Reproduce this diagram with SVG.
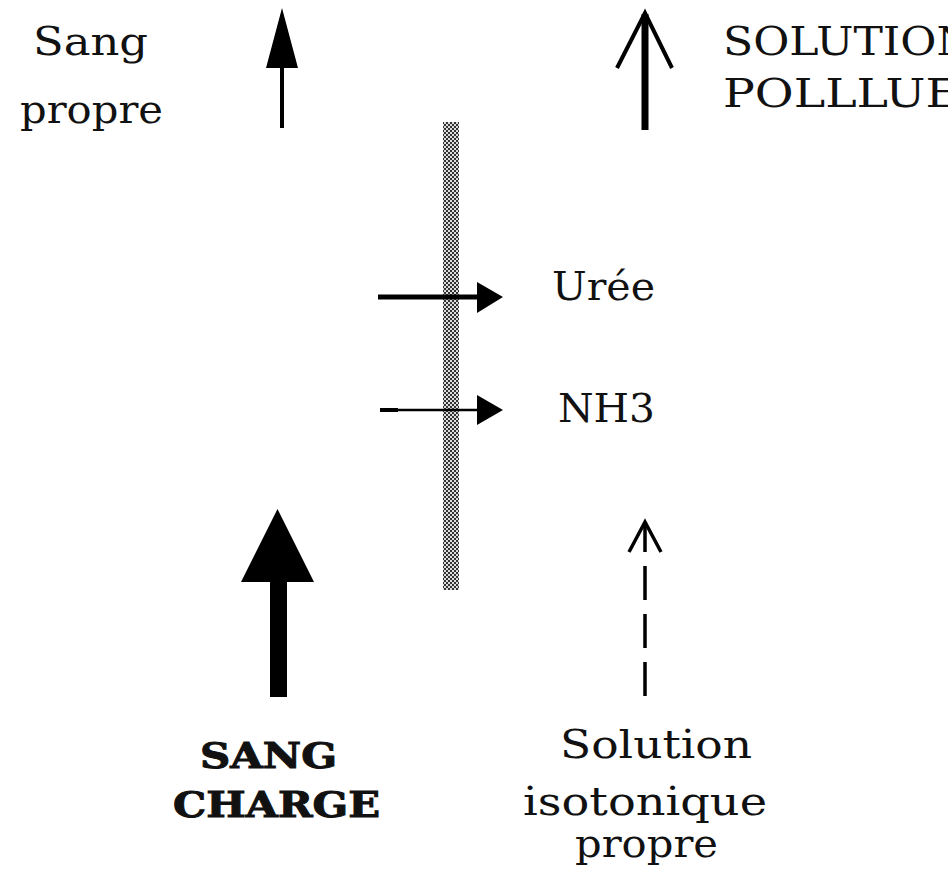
<svg xmlns="http://www.w3.org/2000/svg" width="948" height="874" viewBox="0 0 948 874">
  <defs>
    <!-- dotted grey texture for the dialysis membrane -->
    <pattern id="dots" width="4" height="4" patternUnits="userSpaceOnUse">
      <rect width="4" height="4" fill="#dcdcdc"/>
      <rect x="0" y="0" width="2" height="2" fill="#333"/>
      <rect x="2" y="2" width="2" height="2" fill="#333"/>
    </pattern>
    <style>
      .lbl { font-family: "DejaVu Serif", "Liberation Serif", serif; font-size: 40px; fill: #111; }
      .bold { font-family: "DejaVu Serif", "Liberation Serif", serif; font-size: 35px; font-weight: bold; fill: #111; stroke: #111; stroke-width: 1; }
      .solid { fill: #000; stroke: none; }
      .line { stroke: #000; fill: none; }
    </style>
  </defs>

  <rect width="948" height="874" fill="#fff"/>

  <!-- membrane -->
  <g id="membrane">
    <rect x="443" y="122" width="16" height="468" fill="url(#dots)"/>
  </g>

  <!-- arrows -->
  <g id="connectors">
    <!-- clean blood out -->
    <line class="line" x1="282" y1="128" x2="282" y2="66" stroke-width="4"/>
    <polygon class="solid" points="282,8 298,68 266,68"/>
    <!-- polluted solution out -->
    <line class="line" x1="645" y1="130" x2="645" y2="14" stroke-width="7"/>
    <polyline class="line" points="617,68 645,13 672,68" stroke-width="4"/>
    <!-- urea crossing -->
    <line class="line" x1="378" y1="297" x2="480" y2="297" stroke-width="5"/>
    <polygon class="solid" points="503,297 477,282 477,313"/>
    <!-- NH3 crossing -->
    <line class="line" x1="380" y1="410" x2="480" y2="410" stroke-width="2.5"/>
    <line class="line" x1="380" y1="410" x2="398" y2="410" stroke-width="4"/>
    <polygon class="solid" points="503,410 477,395 477,425"/>
    <!-- charged blood in -->
    <rect class="solid" x="270" y="580" width="17" height="117"/>
    <polygon class="solid" points="277.5,509 314,582 241,582"/>
    <!-- clean isotonic solution in (dashed) -->
    <line class="line" x1="645" y1="696" x2="645" y2="523" stroke-width="3.5" stroke-dasharray="34 14"/>
    <polyline class="line" points="629,552 645,522 661,552" stroke-width="3.5"/>
  </g>

  <g id="sang-propre">
    <text class="lbl" x="33" y="55" textLength="115" lengthAdjust="spacingAndGlyphs">Sang</text>
    <text class="lbl" x="20" y="123" textLength="143" lengthAdjust="spacingAndGlyphs">propre</text>
  </g>

  <g id="solution-polluee">
    <text class="lbl" x="723" y="55" textLength="252" lengthAdjust="spacingAndGlyphs">SOLUTION</text>
    <text class="lbl" x="723" y="107" textLength="237" lengthAdjust="spacingAndGlyphs">POLLLUE</text>
  </g>

  <g id="uree">
    <text class="lbl" x="552" y="300" textLength="103" lengthAdjust="spacingAndGlyphs">Urée</text>
  </g>

  <g id="nh3">
    <text class="lbl" x="558" y="422" textLength="97" lengthAdjust="spacingAndGlyphs">NH3</text>
  </g>

  <g id="sang-charge">
    <text class="bold" x="200" y="768" textLength="137" lengthAdjust="spacingAndGlyphs">SANG</text>
    <text class="bold" x="173" y="817" textLength="207" lengthAdjust="spacingAndGlyphs">CHARGE</text>
  </g>

  <g id="solution-isotonique">
    <text class="lbl" x="560" y="758" textLength="192" lengthAdjust="spacingAndGlyphs">Solution</text>
    <text class="lbl" x="523" y="815" textLength="244" lengthAdjust="spacingAndGlyphs">isotonique</text>
    <text class="lbl" x="575" y="857" textLength="143" lengthAdjust="spacingAndGlyphs">propre</text>
  </g>
</svg>
